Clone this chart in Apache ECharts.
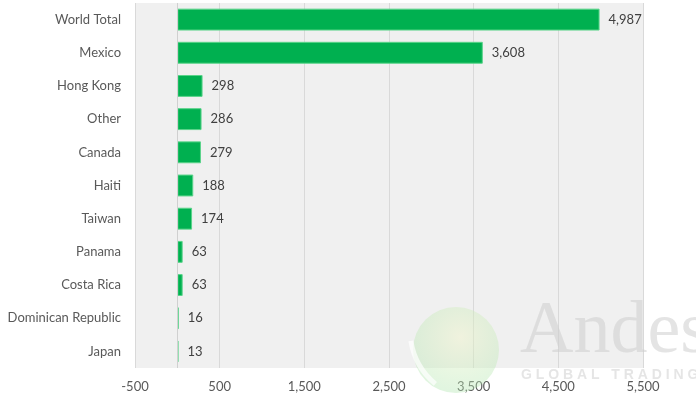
<!DOCTYPE html>
<html>
<head>
<meta charset="utf-8">
<script src="https://cdn.jsdelivr.net/npm/echarts@6/dist/echarts.min.js"></script>
<style>html,body{margin:0;padding:0;background:#fff}#c{width:696px;height:398px}</style>
</head>
<body>
<div id="c"></div>
<script>
const categories = ["World Total","Mexico","Hong Kong","Other","Canada","Haiti","Taiwan","Panama","Costa Rica","Dominican Republic","Japan"];
const values = [4987,3608,298,286,279,188,174,63,63,16,13];
const xMin = -500, xMax = 5500, xStep = 1000;

const chart = echarts.init(document.getElementById('c'), null, {renderer:'canvas'});
const font = 'Lato, "Open Sans", sans-serif';
chart.setOption({
  animation:false,
  backgroundColor:'#ffffff',
  grid:{left:135,right:53,top:3,bottom:30,show:true,backgroundColor:'#f0f0f0',borderWidth:0},
  xAxis:{type:'value',min:xMin,max:xMax,interval:xStep,
    axisLine:{show:false},axisTick:{show:false},
    splitLine:{show:true,lineStyle:{color:'#d9d9d9',width:1}},
    axisLabel:{color:'#595959',fontFamily:font,fontSize:13,margin:12,
      formatter:v=>v.toLocaleString('en-US')}},
  yAxis:{type:'category',data:categories,inverse:true,
    axisLine:{show:false},axisTick:{show:false},
    axisLabel:{color:'#595959',fontFamily:font,fontSize:13,margin:14}},
  series:[{type:'bar',data:values,barWidth:'66%',
    itemStyle:{color:'#00b050',borderColor:'#5ad48a',borderWidth:1},
    label:{show:true,position:'right',distance:9,color:'#404040',fontFamily:font,fontSize:13,
      formatter:p=>p.value.toLocaleString('en-US')},
    markLine:{silent:true,symbol:'none',label:{show:false},
      lineStyle:{color:'#d0d0d0',type:'solid',width:1},data:[{xAxis:0}]},
    z:2}],
  graphic:[
    {type:'circle',shape:{cx:456,cy:350,r:43},z:100,silent:true,
     style:{fill:{type:'radial',x:0.55,y:0.35,r:0.75,colorStops:[{offset:0,color:'rgba(240,245,200,0.45)'},{offset:1,color:'rgba(170,228,175,0.4)'}]}}},
    {type:'arc',shape:{cx:480,cy:330,r:70,startAngle:Math.PI*0.72,endAngle:Math.PI*0.95},z:101,silent:true,
     style:{stroke:'rgba(255,255,255,0.7)',lineWidth:5,fill:null}},
    {type:'text',left:520,top:296,z:100,silent:true,
     style:{text:'Andes',font:'74px "Liberation Serif", "DejaVu Serif", serif',fill:'rgba(205,205,205,0.55)'}},
    {type:'text',left:521,top:368,z:100,silent:true,
     style:{text:'G L O B A L   T R A D I N G',font:'bold 14px "Liberation Sans", sans-serif',fill:'rgba(220,220,220,0.75)'}}
  ]
});
</script>
</body>
</html>
